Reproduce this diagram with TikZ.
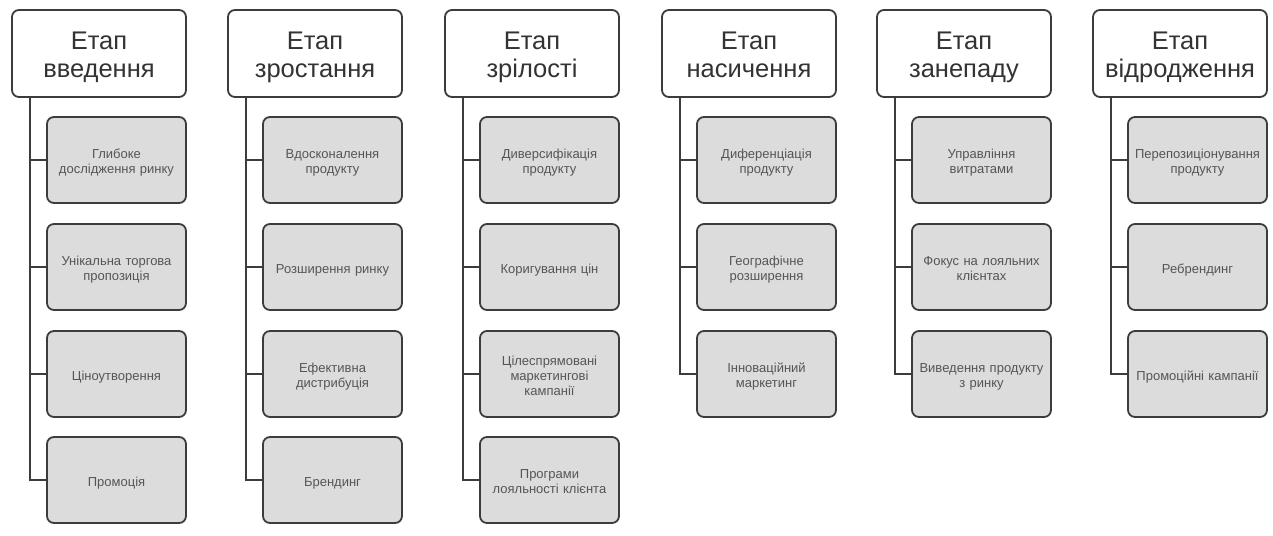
\documentclass[tikz,border=0pt]{standalone}
\usepackage{fontspec}
\setmainfont{Liberation Sans}
\definecolor{edge}{HTML}{3C3C3C}
\definecolor{boxfill}{HTML}{DCDCDC}
\definecolor{htext}{HTML}{333333}
\definecolor{ctext}{HTML}{555555}
\begin{document}
\begin{tikzpicture}[x=1pt,y=-1pt,
 head/.style={draw=edge, line width=1.8pt, rounded corners=7pt, fill=white, minimum width=174pt, minimum height=87pt, text width=172pt, align=center, font=\fontsize{25.5}{28}\selectfont, text=htext, inner sep=0pt, execute at begin node={\rule{0pt}{29pt}}, execute at end node={\strut}},
 item/.style={draw=edge, line width=1.8pt, rounded corners=7pt, fill=boxfill, minimum width=139pt, minimum height=86pt, text width=136pt, align=center, font=\fontsize{13}{15}\selectfont, text=ctext, inner sep=0pt, execute at begin node={\rule{0pt}{17pt}}, execute at end node={\strut}},
 link/.style={draw=edge, line width=1.8pt}]
\useasboundingbox[fill=white] (0,0) rectangle (1273,535);

% column 1
\node[head] (h1) at (99,53.5) {Етап\\введення};
\node[item] (a1) at (116.5,160) {Глибоке\\дослідження ринку};
\node[item] (a2) at (116.5,267) {Унікальна торгова\\пропозиція};
\node[item] (a3) at (116.5,374) {Ціноутворення};
\node[item] (a4) at (116.5,480) {Промоція};
\coordinate (l1) at (30,97);
\draw[link] (l1) |- (a4.west);
\foreach \c in {a1,a2,a3} \draw[link] (l1 |- \c.west) -- (\c.west);

% column 2
\node[head] (h2) at (315,53.5) {Етап\\зростання};
\node[item] (b1) at (332.5,160) {Вдосконалення\\продукту};
\node[item] (b2) at (332.5,267) {Розширення ринку};
\node[item] (b3) at (332.5,374) {Ефективна\\дистрибуція};
\node[item] (b4) at (332.5,480) {Брендинг};
\coordinate (l2) at (246,97);
\draw[link] (l2) |- (b4.west);
\foreach \c in {b1,b2,b3} \draw[link] (l2 |- \c.west) -- (\c.west);

% column 3
\node[head] (h3) at (532,53.5) {Етап\\зрілості};
\node[item] (c1) at (549.5,160) {Диверсифікація\\продукту};
\node[item] (c2) at (549.5,267) {Коригування цін};
\node[item] (c3) at (549.5,374) {Цілеспрямовані\\маркетингові\\кампанії};
\node[item] (c4) at (549.5,480) {Програми\\лояльності клієнта};
\coordinate (l3) at (463,97);
\draw[link] (l3) |- (c4.west);
\foreach \c in {c1,c2,c3} \draw[link] (l3 |- \c.west) -- (\c.west);

% column 4
\node[head] (h4) at (749,53.5) {Етап\\насичення};
\node[item] (d1) at (766.5,160) {Диференціація\\продукту};
\node[item] (d2) at (766.5,267) {Географічне\\розширення};
\node[item] (d3) at (766.5,374) {Інноваційний\\маркетинг};
\coordinate (l4) at (680,97);
\draw[link] (l4) |- (d3.west);
\foreach \c in {d1,d2} \draw[link] (l4 |- \c.west) -- (\c.west);

% column 5
\node[head] (h5) at (964,53.5) {Етап\\занепаду};
\node[item] (e1) at (981.5,160) {Управління\\витратами};
\node[item] (e2) at (981.5,267) {Фокус на лояльних\\клієнтах};
\node[item] (e3) at (981.5,374) {Виведення продукту\\з ринку};
\coordinate (l5) at (895,97);
\draw[link] (l5) |- (e3.west);
\foreach \c in {e1,e2} \draw[link] (l5 |- \c.west) -- (\c.west);

% column 6
\node[head] (h6) at (1180,53.5) {Етап\\відродження};
\node[item] (f1) at (1197.5,160) {Перепозиціонування\\продукту};
\node[item] (f2) at (1197.5,267) {Ребрендинг};
\node[item] (f3) at (1197.5,374) {Промоційні кампанії};
\coordinate (l6) at (1111,97);
\draw[link] (l6) |- (f3.west);
\foreach \c in {f1,f2} \draw[link] (l6 |- \c.west) -- (\c.west);
\end{tikzpicture}
\end{document}
